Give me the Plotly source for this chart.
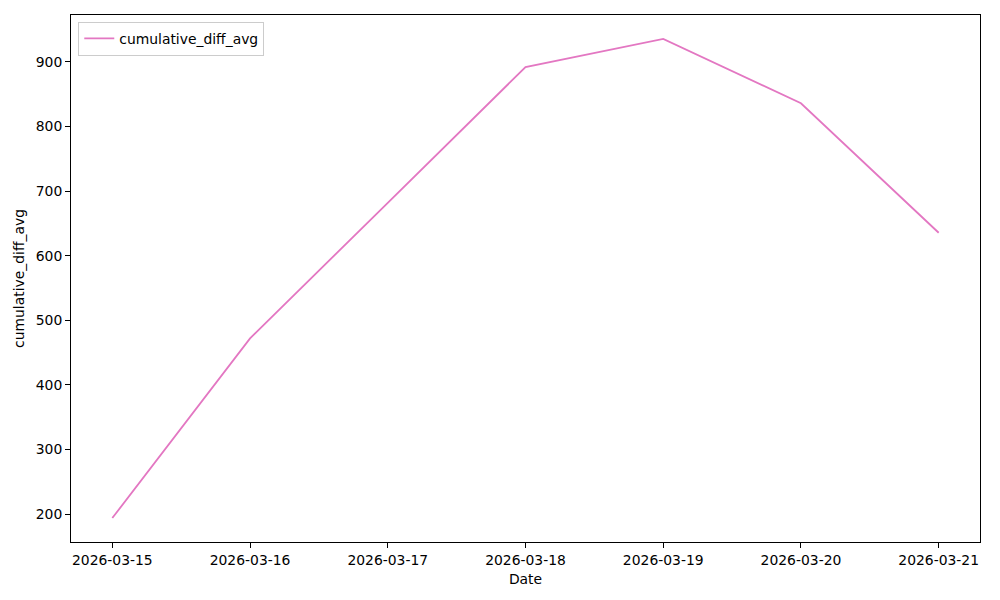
import plotly.graph_objects as go
import pandas as pd

dates = ["2026-03-15", "2026-03-16", "2026-03-17", "2026-03-18", "2026-03-19", "2026-03-20", "2026-03-21"]
cumulative_diff_avg = [194, 472, 682, 892, 935.6, 836, 635.6]

fig = go.Figure()
fig.add_trace(go.Scatter(
    x=pd.to_datetime(dates), y=cumulative_diff_avg, mode="lines",
    name="cumulative_diff_avg", line=dict(color="#e377c2", width=1.8),
))

x0 = pd.Timestamp("2026-03-15") - pd.Timedelta(hours=0.3 * 24)
x1 = pd.Timestamp("2026-03-21") + pd.Timedelta(hours=0.3 * 24)
ymin, ymax = min(cumulative_diff_avg), max(cumulative_diff_avg)
pad = (ymax - ymin) * 0.05

FS = 13.9
axis_common = dict(showline=True, linecolor="black", linewidth=1, mirror=True,
                   ticks="outside", ticklen=5, tickcolor="black", showgrid=False,
                   zeroline=False, tickfont=dict(size=FS, color="black"))

fig.update_layout(
    width=1000, height=600,
    margin=dict(l=63, r=28, t=7, b=66),
    paper_bgcolor="white", plot_bgcolor="white",
    font=dict(family="DejaVu Sans", size=FS, color="black"),
    showlegend=True,
    legend=dict(x=0.008, y=0.987, xanchor="left", yanchor="top",
                bordercolor="#cccccc", borderwidth=1, bgcolor="white",
                font=dict(size=FS), itemwidth=30, tracegroupgap=0),
    xaxis=dict(axis_common, range=[x0, x1], tickformat="%Y-%m-%d",
               dtick=86400000, tick0="2026-03-15",
               title=dict(text="Date", font=dict(size=FS), standoff=7)),
    yaxis=dict(axis_common, range=[ymin - pad, ymax + pad], dtick=100,
               title=dict(text="cumulative_diff_avg", font=dict(size=FS), standoff=7)),
)

fig.write_html("out.html")
